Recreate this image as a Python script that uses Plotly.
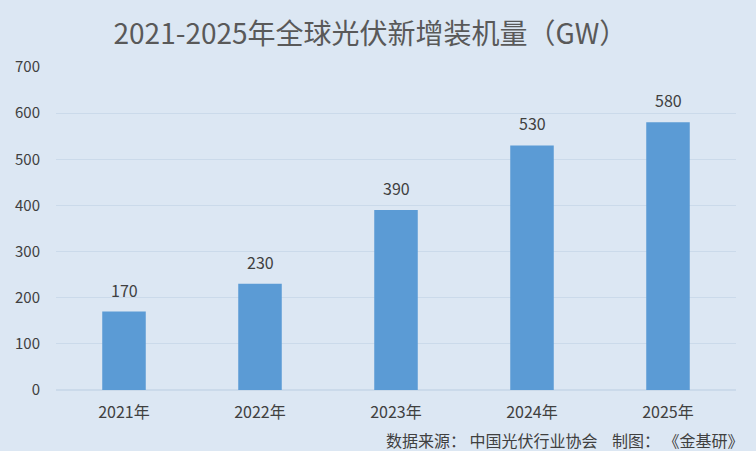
import plotly.graph_objects as go

years = ["2021年", "2022年", "2023年", "2024年", "2025年"]
capacity = [170, 230, 390, 530, 580]
y_ticks = [0, 100, 200, 300, 400, 500, 600, 700]

bg = "#dce7f3"
font_cn = "Noto Sans CJK SC, Noto Sans, sans-serif"

fig = go.Figure()
fig.add_trace(go.Bar(
    x=years, y=capacity,
    marker=dict(color="#5b9bd5", line=dict(width=0)),
    width=0.32,
    hoverinfo="x+y",
))

# value labels above the bars
for yr, v in zip(years, capacity):
    fig.add_annotation(x=yr, y=v, text=str(v), showarrow=False,
                       yanchor="bottom", yshift=8,
                       font=dict(size=16, color="#404040", family=font_cn))

fig.update_layout(
    width=756, height=451,
    paper_bgcolor=bg, plot_bgcolor=bg,
    margin=dict(l=56, r=20, t=67, b=61),
    showlegend=False,
    title=dict(text="2021-2025年全球光伏新增装机量（GW）",
               x=0.49, xanchor="center", y=0.925, yanchor="middle",
               font=dict(size=28, color="#595959", family=font_cn)),
    font=dict(family=font_cn, color="#595959", size=14),
)
fig.update_xaxes(showgrid=False, showline=False, ticks="",
                 ticklabelstandoff=11,
                 tickfont=dict(size=16, color="#404040"))
fig.update_yaxes(range=[0, 700], tickvals=y_ticks, showgrid=True,
                 gridcolor="#cbdaea", gridwidth=1, zeroline=True,
                 zerolinecolor="#cbdaea", showline=False, ticks="",
                 ticklabelstandoff=15,
                 tickfont=dict(size=15, color="#404040"))

fig.add_annotation(text="数据来源： 中国光伏行业协会    制图： 《金基研》",
                   xref="paper", yref="paper", x=1.015, y=-0.11,
                   xanchor="right", yanchor="top", showarrow=False,
                   font=dict(size=16, color="#404040", family=font_cn))

fig.write_html("out.html", config={"displayModeBar": False},
               post_script="document.body.style.margin='0';")
